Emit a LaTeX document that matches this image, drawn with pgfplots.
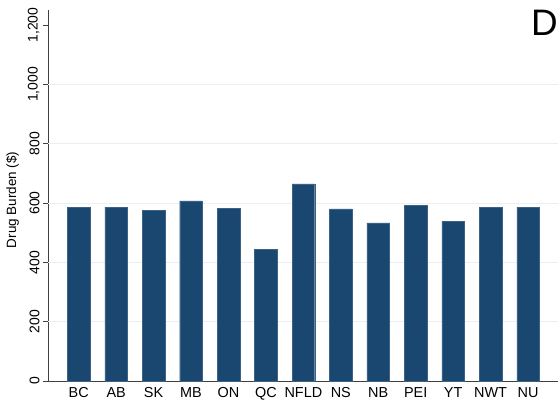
\documentclass[border=0pt]{standalone}
\usepackage{fontspec}
\setmainfont{Liberation Sans}
\usepackage{pgfplots}
\pgfplotsset{compat=1.18}
\definecolor{stnavy}{RGB}{26,71,111}
\definecolor{stgrid}{RGB}{232,240,242}
\begin{document}
\begin{tikzpicture}[x=1bp,y=1bp]
\useasboundingbox (0,0) rectangle (560,400);
\begin{axis}[
  at={(48bp,19bp)}, anchor=south west,
  scale only axis, width=510bp, height=371bp,
  xmin=-0.82, xmax=12.8, ymin=0, ymax=1251,
  axis x line*=bottom, axis y line*=left,
  axis line style={-, black!75, line width=0.6pt},
  xtick={0,...,12},
  xticklabels={BC,AB,SK,MB,ON,QC,NFLD,NS,NB,PEI,YT,NWT,NU},
  x tick style={draw=none},
  x tick label style={font=\fontsize{14.5}{14.5}\selectfont, inner sep=0pt, text depth=0pt, anchor=north},
  xticklabel shift=1bp,
  ytick={0,200,...,1200},
  y tick style={black!75, line width=0.6pt},
  tick align=outside, major tick length=5bp,
  yticklabel style={rotate=90, anchor=south, font=\fontsize{14}{14}\selectfont},
  /pgf/number format/.cd, 1000 sep={,}, assume math mode=true,
  /pgfplots/.cd,
  extra y ticks={200,400,600,800,1000},
  extra y tick labels={},
  extra y tick style={grid=major, major grid style={stgrid, line width=0.8pt}, major tick length=0pt},
  ylabel={Drug Burden (\$)},
  every axis y label/.style={at={(axis description cs:-0.0696,0.488)}, rotate=90, anchor=center, font=\fontsize{13.5}{13.5}\selectfont},
  ybar, bar width=22.6bp,
  clip=false,
]
\addplot[fill=stnavy, draw=stnavy!85!white, line width=0.3pt] coordinates {
(0,586) (1,586) (2,576) (3,607) (4,583) (5,443) (6,665) (7,580) (8,533) (9,593) (10,538) (11,586) (12,586)};
\node[anchor=north east, inner sep=0pt, font=\fontsize{37}{37}\selectfont] at (rel axis cs:1,1) {D};
\end{axis}
\end{tikzpicture}
\end{document}
